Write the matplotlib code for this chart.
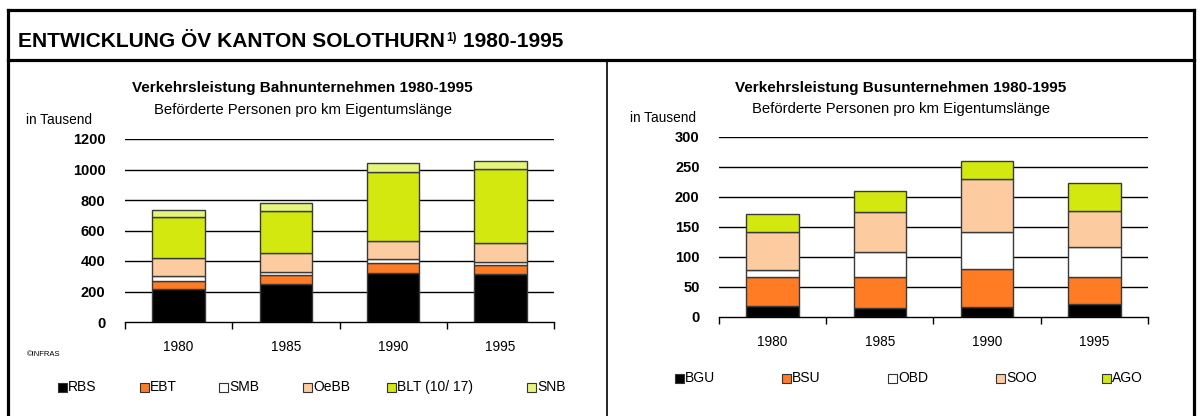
import matplotlib
matplotlib.use("Agg")
import matplotlib.pyplot as plt
from matplotlib.patches import Rectangle
from matplotlib.lines import Line2D
from matplotlib import font_manager
import numpy as np

W, H = 1200, 416
years = ["1980", "1985", "1990", "1995"]

rail_names = ["RBS", "EBT", "SMB", "OeBB", "BLT (10/ 17)", "SNB"]
RBS = [216, 249, 319, 315]
EBT = [55, 59, 66, 59]
SMB = [32, 22, 26, 21]
OeBB = [117, 122, 118, 121]
BLT = [270, 278, 455, 490]
SNB = [45, 48, 57, 52]

bus_names = ["BGU", "BSU", "OBD", "SOO", "AGO"]
BGU = [18, 14, 17, 21]
BSU = [48, 53, 62, 45]
OBD = [12, 41, 63, 51]
SOO = [63, 67, 87, 60]
AGO = [31, 35, 31, 46]

rail_ticks = [0, 200, 400, 600, 800, 1000, 1200]
bus_ticks = [0, 50, 100, 150, 200, 250, 300]

BLACK = "#000000"
ORANGE = "#FF7C24"
WHITE = "#FFFFFF"
PEACH = "#FDCBA0"
LIME = "#D2E80F"
LIGHT = "#E6F57A"
rail_colors = [BLACK, ORANGE, WHITE, PEACH, LIME, LIGHT]
bus_colors = [BLACK, ORANGE, WHITE, PEACH, LIME]

plt.rcParams['font.family'] = ['Liberation Sans', 'DejaVu Sans']
fig = plt.figure(figsize=(W / 100, H / 100), dpi=100)

def fx(x): return x / W
def fy(y): return 1 - y / H

def axes_px(x0, x1, y_top, y_bot):
    return fig.add_axes([fx(x0), fy(y_bot), fx(x1 - x0), (y_bot - y_top) / H])

def draw_chart(ax, series, colors, ticks):
    x = np.arange(len(years))
    bottom = np.zeros(len(years))
    for vals, c in zip(series, colors):
        ax.bar(x, vals, width=0.49, bottom=bottom, color=c, edgecolor="#3a3a3a",
               linewidth=1.0, zorder=3)
        bottom += np.array(vals)
    ax.set_xlim(-0.5, len(years) - 0.5)
    ax.set_ylim(ticks[0], ticks[-1])
    ax.set_yticks(ticks)
    ax.set_yticklabels([str(t) for t in ticks], fontsize=10.5, fontweight="bold")
    ax.tick_params(axis="y", length=0, pad=14)
    ax.set_xticks(x)
    ax.set_xticklabels(years, fontsize=9.8)
    ax.tick_params(axis="x", which="major", length=0, pad=13)
    ax.set_xticks(np.arange(len(years) + 1) - 0.5, minor=True)
    ax.tick_params(axis="x", which="minor", length=5, width=1, direction="out")
    for s in ["left", "right", "top"]:
        ax.spines[s].set_visible(False)
    ax.spines["bottom"].set_linewidth(1)
    ax.spines["bottom"].set_zorder(4)
    for t in ticks[1:]:
        ax.axhline(t, color="black", linewidth=1, zorder=1)
    ax.set_facecolor("none")

axL = axes_px(125, 554, 139, 322)
draw_chart(axL, [RBS, EBT, SMB, OeBB, BLT, SNB], rail_colors, rail_ticks)
axR = axes_px(719, 1148, 136.7, 316.7)
draw_chart(axR, [BGU, BSU, OBD, SOO, AGO], bus_colors, bus_ticks)

# frame
lw3 = 2.3
fig.add_artist(Line2D([fx(8), fx(8)], [fy(10), 0], color="black", lw=lw3))
fig.add_artist(Line2D([fx(1194), fx(1194)], [fy(10), 0], color="black", lw=lw3))
fig.add_artist(Line2D([fx(8), fx(1194)], [fy(10), fy(10)], color="black", lw=lw3))
fig.add_artist(Line2D([fx(8), fx(1194)], [fy(60), fy(60)], color="black", lw=lw3))
fig.add_artist(Line2D([fx(607), fx(607)], [fy(60), 0], color="black", lw=1.2))

# main title (narrow font if available; otherwise fit width)
installed = {f.name for f in font_manager.fontManager.ttflist}
narrow = None
for cand in ['Liberation Sans Narrow', 'Arial Narrow', 'DejaVu Sans Condensed']:
    if cand in installed:
        narrow = cand
        break
tfam = [narrow, 'Liberation Sans', 'DejaVu Sans'] if narrow else ['Liberation Sans', 'DejaVu Sans']

fig.canvas.draw()
r = fig.canvas.get_renderer()

def make_title(size):
    t1 = fig.text(fx(18), fy(47), "ENTWICKLUNG ÖV KANTON SOLOTHURN", fontsize=size,
                  fontweight="bold", family=tfam, va="baseline", ha="left")
    bb = t1.get_window_extent(r)
    t2 = fig.text(bb.x1 / W + 0.001, fy(41), "1)", fontsize=size * 0.55, fontweight="bold",
                  family=tfam, va="baseline", ha="left")
    bb2 = t2.get_window_extent(r)
    t3 = fig.text(bb2.x1 / W, fy(47), " 1980-1995", fontsize=size, fontweight="bold",
                  family=tfam, va="baseline", ha="left")
    return [t1, t2, t3], t3.get_window_extent(r).x1

size = 17.5
texts, right = make_title(size)
target = 563
if right > target + 4:
    for t in texts:
        t.remove()
    size = size * (target - 18) / (right - 18)
    texts, right = make_title(size)

# chart titles
fig.text(fx(302), fy(88), "Verkehrsleistung Bahnunternehmen 1980-1995", fontsize=11,
         fontweight="bold", ha="center", va="center")
fig.text(fx(303), fy(110), "Beförderte Personen pro km Eigentumslänge", fontsize=10.7,
         ha="center", va="center")
fig.text(fx(26), fy(120), "in Tausend", fontsize=9.8, ha="left", va="center")

fig.text(fx(901), fy(88), "Verkehrsleistung Busunternehmen 1980-1995", fontsize=11,
         fontweight="bold", ha="center", va="center")
fig.text(fx(901), fy(109), "Beförderte Personen pro km Eigentumslänge", fontsize=10.7,
         ha="center", va="center")
fig.text(fx(630), fy(118), "in Tausend", fontsize=9.8, ha="left", va="center")

fig.text(fx(27), fy(354), "©INFRAS", fontsize=5.5, ha="left", va="center")

def legend(names, colors, xs, y):
    for n, c, x in zip(names, colors, xs):
        s = 9
        fig.add_artist(Rectangle((fx(x), fy(y + s / 2)), s / W, s / H,
                                 facecolor=c, edgecolor="#333333", lw=0.8))
        fig.text(fx(x + s + 1), fy(y), n, fontsize=10, ha="left", va="center")

legend(rail_names, rail_colors, [58, 140, 219, 303, 387, 527], 387)
legend(bus_names, bus_colors, [675, 782, 888, 996, 1102], 378)

fig.savefig("out.png", dpi=100)
